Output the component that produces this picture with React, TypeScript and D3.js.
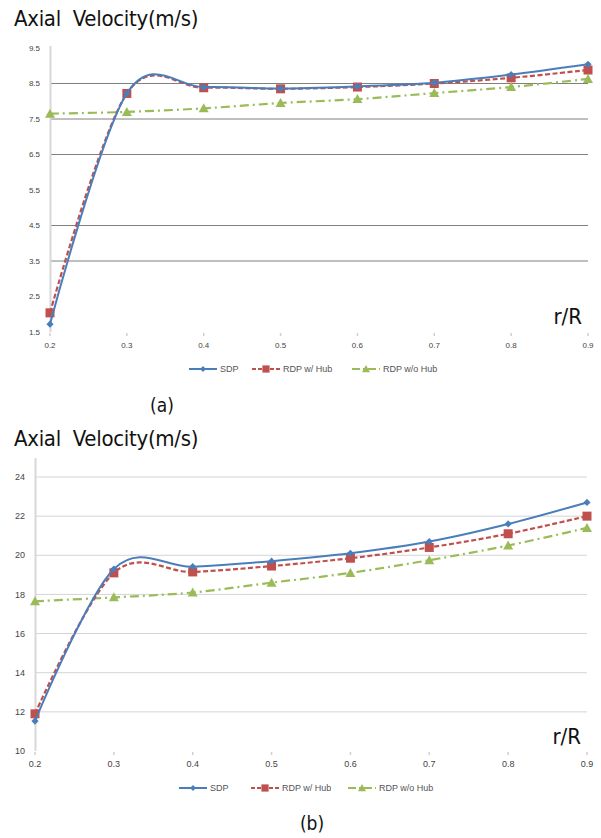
import React from "react";
import * as d3 from "d3";

const xCats = [0.2, 0.3, 0.4, 0.5, 0.6, 0.7, 0.8, 0.9];
const xTickLabels = ["0.2", "0.3", "0.4", "0.5", "0.6", "0.7", "0.8", "0.9"];

// Chart (a)
const aSDP = [1.72, 8.22, 8.4, 8.36, 8.42, 8.52, 8.75, 9.04];
const aRDP = [2.04, 8.22, 8.38, 8.35, 8.4, 8.5, 8.66, 8.88];
const aRDPnoHub = [7.65, 7.7, 7.8, 7.95, 8.06, 8.23, 8.4, 8.63];
const aYTicks = [1.5, 2.5, 3.5, 4.5, 5.5, 6.5, 7.5, 8.5, 9.5];
const aYTickLabels = ["1.5", "2.5", "3.5", "4.5", "5.5", "6.5", "7.5", "8.5", "9.5"];
const aGrid = [3.5, 4.5, 6.5, 7.5, 8.5];

// Chart (b)
const bSDP = [11.53, 19.3, 19.42, 19.7, 20.1, 20.7, 21.6, 22.7];
const bRDP = [11.9, 19.1, 19.15, 19.45, 19.85, 20.4, 21.1, 22.0];
const bRDPnoHub = [17.65, 17.85, 18.1, 18.6, 19.1, 19.75, 20.5, 21.4];
const bYTicks = [10, 12, 14, 16, 18, 20, 22, 24];
const bYTickLabels = ["10", "12", "14", "16", "18", "20", "22", "24"];
const bGrid = [12, 14, 16, 18, 20, 22, 24];

const seriesNames = ["SDP", "RDP w/ Hub", "RDP w/o Hub"];

const BLUE = "#4a7ebb";
const RED = "#c0504d";
const GREEN = "#9bbb59";

const TITLE_FONT = "'DejaVu Sans', sans-serif";
const SMALL_FONT = "'Liberation Sans', Arial, sans-serif";

type Cfg = {
  top: number;
  yTop: number;
  yBottom: number;
  xLeft: number;
  xRight: number;
  yDomain: [number, number];
  yTicks: number[];
  yLabels: string[];
  grid: number[];
  gridColor: string;
  data: number[][];
  legendY: number;
  legendX: number[];
  caption: string;
  captionX: number;
  captionY: number;
  rrY: number;
  tickFont: number;
  yLabelX: number;
  axisTopY: number;
  markerScale: number;
};

function Marker({ kind, x, y, s }: { kind: number; x: number; y: number; s: number }) {
  if (kind === 0) {
    const r = 3.6 * s;
    return <path d={`M${x},${y - r}L${x + r},${y}L${x},${y + r}L${x - r},${y}Z`} fill={BLUE} />;
  }
  if (kind === 1) {
    const h = 4.5 * s;
    return <rect x={x - h} y={y - h} width={2 * h} height={2 * h} fill={RED} />;
  }
  const h = 5 * s;
  return <path d={`M${x},${y - h}L${x + h},${y + h * 0.8}L${x - h},${y + h * 0.8}Z`} fill={GREEN} />;
}

const colors = [BLUE, RED, GREEN];
const dashes = ["none", "5,2.5", "9,4,2,4"];

function Chart({ c }: { c: Cfg }) {
  const x = d3.scaleLinear().domain([0.2, 0.9]).range([c.xLeft, c.xRight]);
  const y = d3.scaleLinear().domain(c.yDomain).range([c.yBottom, c.yTop]);
  const line = d3
    .line<number>()
    .x((_, i) => x(xCats[i]))
    .y((d) => y(d))
    .curve(d3.curveCardinal.tension(0));
  return (
    <g>
      <text
        x={14}
        y={c.top + 26}
        fontFamily={TITLE_FONT}
        fontSize={22}
        letterSpacing={-0.3}
        fill="#111"
        style={{ fontStretch: "condensed" }}
      >
        {"Axial\u00a0\u00a0Velocity(m/s)"}
      </text>
      {c.grid.map((g) => (
        <line key={g} x1={c.xLeft} x2={c.xRight} y1={y(g)} y2={y(g)} stroke={c.gridColor} strokeWidth={1} />
      ))}
      <line x1={c.xLeft + 0.5} x2={c.xLeft + 0.5} y1={c.axisTopY} y2={c.yBottom} stroke="#d8d8d8" strokeWidth={2} />
      {c.yTicks.map((t, i) => (
        <text
          key={t}
          x={c.yLabelX}
          y={y(t)}
          dy="0.35em"
          textAnchor="end"
          fontFamily={SMALL_FONT}
          fontSize={c.tickFont}
          fill="#444"
        >
          {c.yLabels[i]}
        </text>
      ))}
      {xCats.map((v, i) => (
        <g key={v}>
          <line x1={x(v)} x2={x(v)} y1={c.yBottom + 1} y2={c.yBottom + 4} stroke="#d0d0d0" strokeWidth={1.5} />
          <text
            x={x(v)}
            y={c.yBottom + 16}
            textAnchor="middle"
            fontFamily={SMALL_FONT}
            fontSize={c.tickFont}
            fill="#444"
          >
            {xTickLabels[i]}
          </text>
        </g>
      ))}
      <text
        x={c.xRight - 6}
        y={c.rrY}
        textAnchor="end"
        fontFamily={TITLE_FONT}
        fontSize={22}
        fill="#111"
        style={{ fontStretch: "condensed" }}
      >
        r/R
      </text>
      {[2, 1, 0].map((si) => (
        <g key={si}>
          <path
            d={line(c.data[si]) || ""}
            fill="none"
            stroke={colors[si]}
            strokeWidth={si === 0 ? 2 : 2.2}
            strokeDasharray={dashes[si]}
          />
          {c.data[si].map((v, i) => (
            <Marker key={i} kind={si} x={x(xCats[i])} y={y(v)} s={c.markerScale} />
          ))}
        </g>
      ))}
      {seriesNames.map((n, si) => {
        const lx = c.legendX[si];
        return (
          <g key={n}>
            <line
              x1={lx}
              x2={lx + 28}
              y1={c.legendY}
              y2={c.legendY}
              stroke={colors[si]}
              strokeWidth={2}
              strokeDasharray={si === 1 ? "4,2" : si === 2 ? "8,3,2,3" : "none"}
            />
            <Marker kind={si} x={lx + 14} y={c.legendY} s={0.8} />
            <text x={lx + 31} y={c.legendY} dy="0.35em" fontFamily={SMALL_FONT} fontSize={9} fill="#555">
              {n}
            </text>
          </g>
        );
      })}
      <text
        x={c.captionX}
        y={c.captionY}
        textAnchor="middle"
        fontFamily={TITLE_FONT}
        fontSize={19}
        fill="#111"
        style={{ fontStretch: "condensed" }}
      >
        {c.caption}
      </text>
    </g>
  );
}

const cfgA: Cfg = {
  top: 0,
  yTop: 48,
  yBottom: 332,
  xLeft: 50,
  xRight: 588,
  yDomain: [1.5, 9.5],
  yTicks: aYTicks,
  yLabels: aYTickLabels,
  grid: aGrid,
  gridColor: "#808080",
  data: [aSDP, aRDP, aRDPnoHub],
  legendY: 369,
  legendX: [189, 252, 352],
  caption: "(a)",
  captionX: 162,
  captionY: 412,
  rrY: 324,
  tickFont: 8,
  yLabelX: 40,
  axisTopY: 46,
  markerScale: 1,
};

const cfgB: Cfg = {
  top: 420,
  yTop: 477,
  yBottom: 751,
  xLeft: 35,
  xRight: 587,
  yDomain: [10, 24],
  yTicks: bYTicks,
  yLabels: bYTickLabels,
  grid: bGrid,
  gridColor: "#d4d4d4",
  data: [bSDP, bRDP, bRDPnoHub],
  legendY: 788,
  legendX: [179, 251, 348],
  caption: "(b)",
  captionX: 312,
  captionY: 830,
  rrY: 744,
  tickFont: 9,
  yLabelX: 25,
  axisTopY: 458,
  markerScale: 1,
};

export default function App() {
  return (
    <svg
      width={601}
      height={838}
      viewBox="0 0 601 838"
      style={{ position: "absolute", left: 0, top: 0, background: "#fff" }}
    >
      <rect width={601} height={838} fill="#fff" />
      <Chart c={cfgA} />
      <Chart c={cfgB} />
    </svg>
  );
}
